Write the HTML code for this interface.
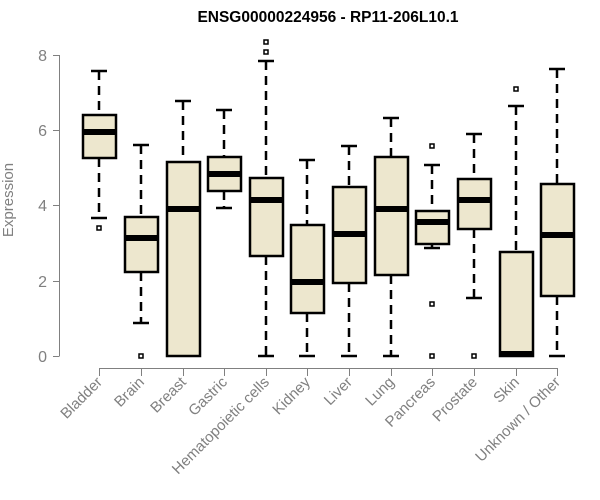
<!DOCTYPE html>
<html><head><meta charset="utf-8"><style>body{margin:0;background:#fff}svg{display:block}</style></head><body>
<svg width="600" height="500" xmlns="http://www.w3.org/2000/svg" font-family="Liberation Sans, Arial, sans-serif">
<text x="328" y="22" text-anchor="middle" font-weight="bold" font-size="15.5">ENSG00000224956 - RP11-206L10.1</text>
<g stroke="#808080" stroke-width="1" fill="none">
<path d="M59.5 55V356M53 55.5H59.5M53 130.5H59.5M53 205.5H59.5M53 281.5H59.5M53 356.5H59.5"/>
<path d="M99 368.5H557M99.5 368V376M141.5 368V376M183.5 368V376M224.5 368V376M266.5 368V376M307.5 368V376M349.5 368V376M391.5 368V376M432.5 368V376M474.5 368V376M516.5 368V376M557.5 368V376"/>
</g>
<g fill="#808080" font-size="16" text-anchor="end">
<text x="47" y="61">8</text><text x="47" y="136">6</text><text x="47" y="211">4</text><text x="47" y="287">2</text><text x="47" y="362">0</text>
</g>
<text transform="translate(13,200) rotate(-90)" text-anchor="middle" fill="#808080" font-size="15">Expression</text>
<g fill="#808080" font-size="15" text-anchor="end">
<text transform="translate(103,383) rotate(-45)">Bladder</text>
<text transform="translate(145,383) rotate(-45)">Brain</text>
<text transform="translate(187,383) rotate(-45)">Breast</text>
<text transform="translate(228,383) rotate(-45)">Gastric</text>
<text transform="translate(270,383) rotate(-45)">Hematopoietic cells</text>
<text transform="translate(311,383) rotate(-45)">Kidney</text>
<text transform="translate(353,383) rotate(-45)">Liver</text>
<text transform="translate(395,383) rotate(-45)">Lung</text>
<text transform="translate(436,383) rotate(-45)">Pancreas</text>
<text transform="translate(478,383) rotate(-45)">Prostate</text>
<text transform="translate(520,383) rotate(-45)">Skin</text>
<text transform="translate(561,383) rotate(-45)">Unknown / Other</text>
</g>
<g stroke="#000" stroke-width="2.5" fill="none" stroke-dasharray="9,6">
<path d="M99 71V115M99 158V218M141 145V217M141 272V323M183 101V162M224 110V157M224 191V208M266 61V178M266 256V356M307 160V225M307 313V356M349 146V187M349 283V356M391 118V157M391 275V356M432 165V211M432 244V248M474 134V179M474 229V298M516 106V252M557 69V184M557 296V356"/>
</g>
<g stroke="#000" stroke-width="2.5" fill="none">
<path d="M91 71H107M91 218H107M133 145H149M133 323H149M175 101H191M216 110H232M216 208H232M258 61H274M258 356H274M299 160H315M299 356H315M341 146H357M341 356H357M383 118H399M383 356H399M424 165H440M424 248H440M466 134H482M466 298H482M508 106H524M549 69H565M549 356H565"/>
</g>
<g stroke="#000" stroke-width="2.5" fill="#EDE7CE">
<rect x="83" y="115" width="33" height="43"/>
<rect x="125" y="217" width="33" height="55"/>
<rect x="167" y="162" width="33" height="194"/>
<rect x="208" y="157" width="33" height="34"/>
<rect x="250" y="178" width="33" height="78"/>
<rect x="291" y="225" width="33" height="88"/>
<rect x="333" y="187" width="33" height="96"/>
<rect x="375" y="157" width="33" height="118"/>
<rect x="416" y="211" width="33" height="33"/>
<rect x="458" y="179" width="33" height="50"/>
<rect x="500" y="252" width="33" height="104"/>
<rect x="541" y="184" width="33" height="112"/>
</g>
<g stroke="#000" stroke-width="6">
<path d="M83 132H116M125 238H158M167 209H200M208 174H241M250 200H283M291 282H324M333 234H366M375 209H408M416 222H449M458 200H491M500 354H533M541 235H574"/>
</g>
<g stroke="#000" stroke-width="1.5" fill="none">
<rect x="97" y="226" width="4" height="4"/>
<rect x="139" y="354" width="4" height="4"/>
<rect x="264" y="40" width="4" height="4"/>
<rect x="264" y="50" width="4" height="4"/>
<rect x="430" y="144" width="4" height="4"/>
<rect x="430" y="302" width="4" height="4"/>
<rect x="430" y="354" width="4" height="4"/>
<rect x="472" y="354" width="4" height="4"/>
<rect x="514" y="87" width="4" height="4"/>
</g>
</svg>
</body></html>
